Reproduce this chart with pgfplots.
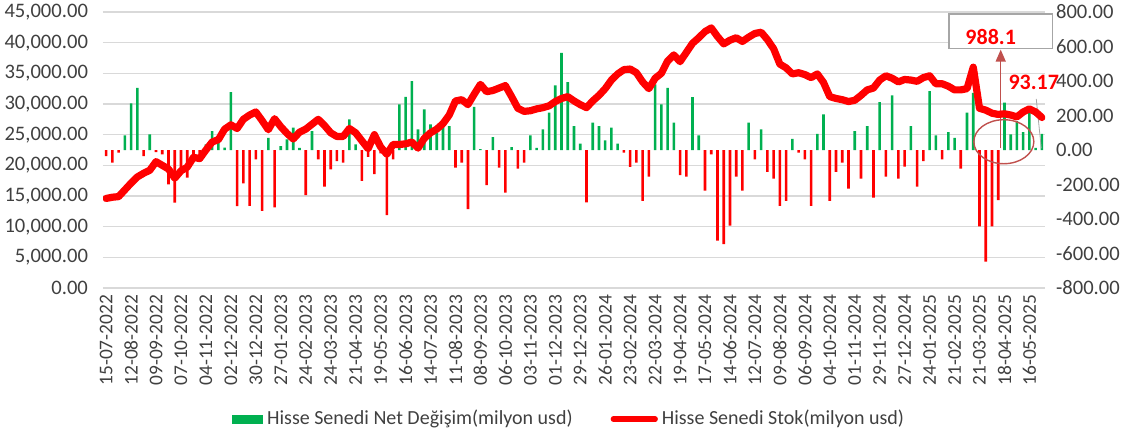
\documentclass[border=0pt]{standalone}
\usepackage{fontspec}
\setmainfont{Carlito}
\usepackage{pgfplots}
\usepackage{pgfplotstable}
\pgfplotsset{compat=1.18}
\usetikzlibrary{arrows.meta}

\definecolor{exgreen}{RGB}{0,176,80}
\definecolor{exred}{RGB}{255,0,0}
\definecolor{gridgray}{HTML}{D9D9D9}
\definecolor{txt}{HTML}{404040}
\definecolor{annot}{HTML}{C0504D}
\definecolor{boxgray}{HTML}{A6A6A6}

% weekly data, i=0 is 15-07-2022; stok = Hisse Senedi Stok, net = Net Degisim (milyon usd)
\pgfplotstableread{
i stok net
0 14600 -35
1 14800 -73
2 14900 -15
3 16000 85
4 17100 270
5 18100 360
6 18700 -35
7 19200 90
8 20600 -12
9 20000 -25
10 19400 -200
11 17900 -305
12 19100 -140
13 19700 -160
14 21300 -35
15 21100 -25
16 22500 33
17 23800 110
18 24200 52
19 25900 14
20 26600 335
21 26000 -325
22 27500 -193
23 28200 -324
24 28700 -54
25 27300 -353
26 25800 71
27 27600 -333
28 26300 23
29 25200 62
30 24300 129
31 25400 13
32 25900 -262
33 26700 110
34 27500 -54
35 26500 -212
36 25300 -112
37 24700 -64
38 24700 -73
39 26000 177
40 25300 33
41 24000 -179
42 22700 -40
43 25000 -140
44 23000 -20
45 21800 -378
46 23400 -54
47 23400 264
48 23500 308
49 23800 399
50 22800 119
51 24400 235
52 25300 148
53 25900 100
54 26800 139
55 28200 139
56 30500 -102
57 30700 -73
58 29900 -343
59 31600 250
60 33200 5
61 32000 -204
62 32200 75
63 32600 -102
64 33000 -247
65 31200 17
66 29300 -108
67 28800 -73
68 28900 85
69 29200 13
70 29400 119
71 29700 216
72 30400 374
73 30900 563
74 31200 393
75 30500 139
76 29900 37
77 29400 -304
78 30500 158
79 31400 139
80 32500 56
81 33900 129
82 34900 37
83 35600 -15
84 35700 -98
85 35100 -73
86 33600 -295
87 32500 -154
88 34200 380
89 35000 264
90 37000 360
91 38000 158
92 36900 -146
93 38400 -154
94 39900 306
95 40800 85
96 41800 -235
97 42400 -25
98 41000 -526
99 39800 -545
100 40400 -439
101 40800 -154
102 40200 -235
103 40900 158
104 41500 -54
105 41700 119
106 40500 -127
107 39000 -166
108 36500 -324
109 35900 -295
110 34900 65
111 35100 -15
112 34800 -54
113 34300 -324
114 34900 94
115 33500 206
116 31200 -295
117 30900 -127
118 30700 -73
119 30400 -224
120 30600 110
121 31400 -166
122 32300 139
123 32600 -276
124 33900 277
125 34600 -154
126 34200 316
127 33600 -166
128 34000 -96
129 33900 139
130 33700 -212
131 34300 -64
132 34600 341
133 33300 85
134 33300 -54
135 32900 104
136 32300 71
137 32300 -108
138 32500 216
139 36000 331
140 29300 -443
141 29000 -647
142 28500 -443
143 28300 -291
144 28400 274
145 28200 90
146 27900 168
147 28700 104
148 29200 216
149 28700 13
150 27800 93.17
}\data

\pgfplotsset{
  base/.style={
    at={(51.5pt,74.5pt)}, anchor=south west,
    scale only axis, width=471pt, height=138pt,
    xmin=-0.5, xmax=150.5,
    axis line style={draw=none}, major tick length=0pt,
    tick label style={color=txt},
    scaled y ticks=false,
  },
}

\begin{document}
\begin{tikzpicture}
\path[use as bounding box] (0,0) rectangle (564.5pt,218.5pt);

% left axis, grid and dates
\begin{axis}[base,
  ymin=0, ymax=45000, ytick={0,5000,...,45000},
  ymajorgrids, grid style={gridgray, line width=0.8pt},
  yticklabel style={font=\fontsize{10.3}{12}\selectfont, xshift=-4pt,
    /pgf/number format/.cd, fixed, fixed zerofill, precision=2, 1000 sep={,}, assume math mode=true},
  xtick={0,4,...,148},
  xticklabels={15-07-2022,12-08-2022,09-09-2022,07-10-2022,04-11-2022,02-12-2022,30-12-2022,
    27-01-2023,24-02-2023,24-03-2023,21-04-2023,19-05-2023,16-06-2023,14-07-2023,11-08-2023,
    08-09-2023,06-10-2023,03-11-2023,01-12-2023,29-12-2023,26-01-2024,23-02-2024,22-03-2024,
    19-04-2024,17-05-2024,14-06-2024,12-07-2024,09-08-2024,06-09-2024,04-10-2024,01-11-2024,
    29-11-2024,27-12-2024,24-01-2025,21-02-2025,21-03-2025,18-04-2025,16-05-2025},
  xticklabel style={rotate=90, anchor=east, font=\fontsize{9.7}{11}\selectfont},
]
\addplot[draw=none] coordinates {(0,0)};
\end{axis}

% right axis, net change bars
\begin{axis}[base, clip=false,
  ymin=-800, ymax=800, ytick={-800,-600,...,800},
  axis y line*=right, axis x line=none,
  yticklabel style={font=\fontsize{10.3}{12}\selectfont, xshift=2pt,
    /pgf/number format/.cd, fixed, fixed zerofill, precision=2, assume math mode=true},
]
\addplot[ybar, bar width=1.3pt, bar shift=0pt, fill=exgreen, draw=none,
  restrict y to domain=0:1000] table[x=i, y=net] {\data};
\addplot[ybar, bar width=1.3pt, bar shift=0pt, fill=exred, draw=none,
  restrict y to domain=-1000:0] table[x=i, y=net] {\data};

\draw[boxgray, line width=0.8pt, fill=white] (axis cs:135.1,790) rectangle (axis cs:151.7,588);
\node[text=exred, font=\fontsize{11}{13}\selectfont\bfseries] at (axis cs:141.8,657) {988.1};
\draw[annot, line width=0.7pt, -{Triangle[width=5pt,length=6pt]}] (axis cs:143.4,9) -- (axis cs:143.4,582);
\node[text=exred, font=\fontsize{11}{13}\selectfont\bfseries] at (axis cs:148.7,395) {93.17};
\draw[boxgray, line width=0.4pt] (axis cs:149.1,296) -- (axis cs:149.9,10);
\draw[annot, line width=0.7pt] (axis cs:143.9,48) ellipse [x radius=15pt, y radius=11pt];
\end{axis}

% stock line and legend
\begin{axis}[base, hide axis,
  ymin=0, ymax=45000,
  legend style={at={(0.496,-0.475)}, anchor=center, draw=none, fill=none,
    legend columns=2, font=\fontsize{10}{11}\selectfont, text=txt,
    /tikz/every even column/.append style={column sep=17pt},
    legend cell align=left},
]
\addlegendimage{legend image code/.code={\fill[exgreen] (0pt,-2pt) rectangle (15pt,2pt);}}
\addlegendentry{Hisse Senedi Net Değişim(milyon usd)}
\addplot[exred, line width=3.6pt, line join=round, line cap=round,
  legend image code/.code={\draw[exred, line width=2.6pt, line cap=round] (0pt,0pt) -- (21pt,0pt);}]
  table[x=i, y=stok] {\data};
\addlegendentry{Hisse Senedi Stok(milyon usd)}
\end{axis}
\end{tikzpicture}
\end{document}
